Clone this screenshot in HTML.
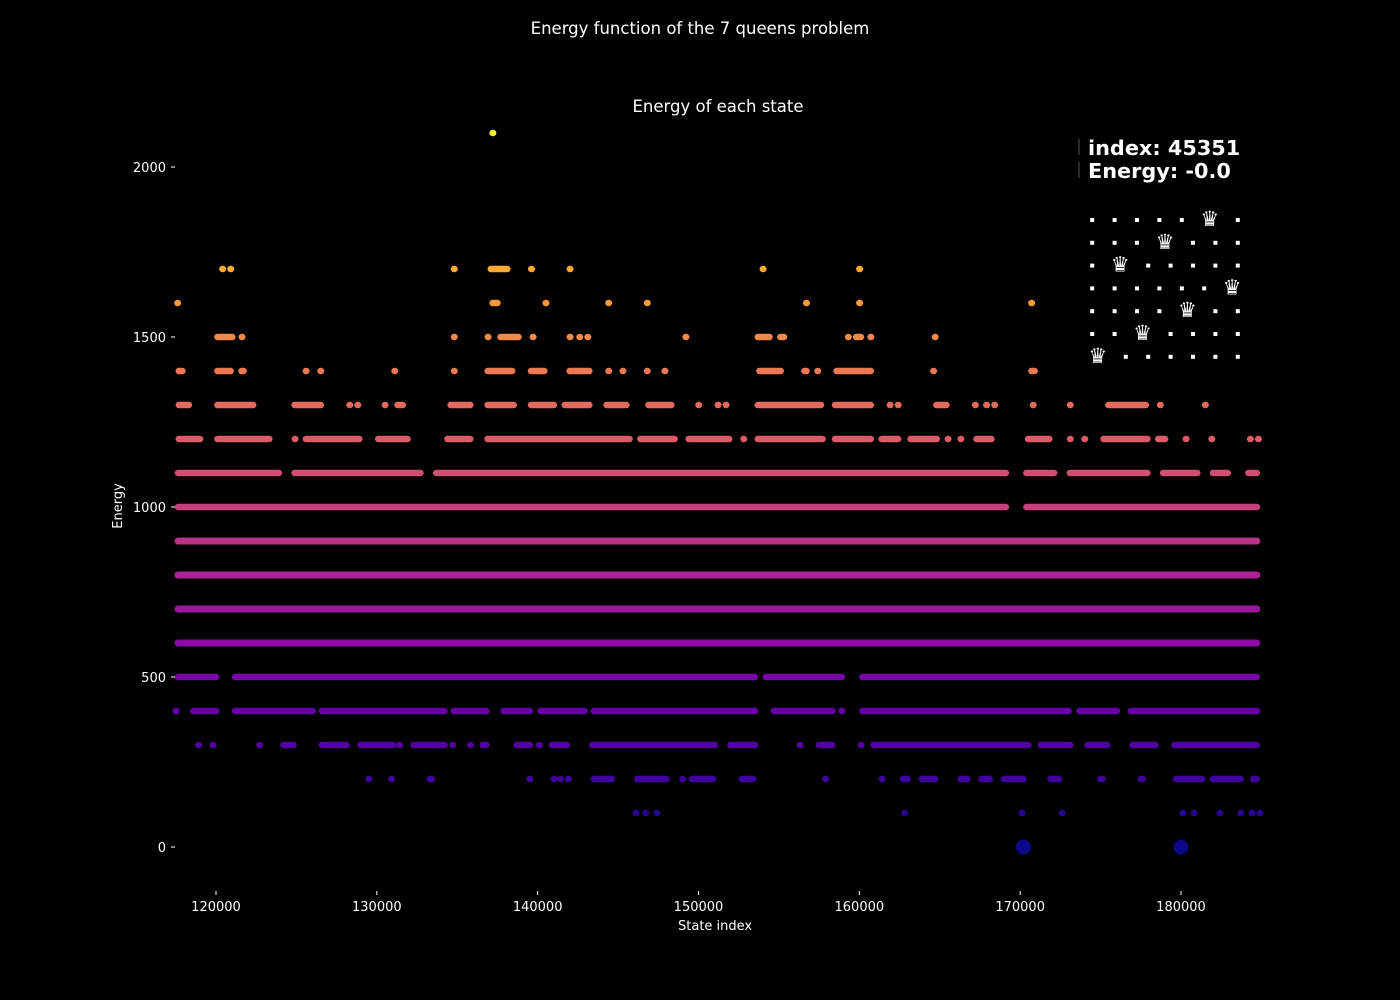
<!DOCTYPE html>
<html><head><meta charset="utf-8">
<style>
html,body{margin:0;padding:0;background:#000;}
body{width:1400px;height:1000px;overflow:hidden;font-family:"DejaVu Sans","Liberation Sans",sans-serif;}
svg{display:block;}
svg text{font-family:"DejaVu Sans","Liberation Sans",sans-serif;}
</style></head>
<body>
<svg id="chart" width="1400" height="1000" xmlns="http://www.w3.org/2000/svg">
<rect width="1400" height="1000" fill="#000"/>
<text x="700" y="34" fill="#fff" font-size="16.5" text-anchor="middle">Energy function of the 7 queens problem</text>
<text x="718" y="112" fill="#fff" font-size="16.5" text-anchor="middle">Energy of each state</text>
<text x="678" y="930" fill="#fff" font-size="13">State index</text>
<text transform="translate(122,506) rotate(-90)" fill="#fff" font-size="13" text-anchor="middle">Energy</text>
<g id="marks"></g>
<g id="axes"></g>
<g id="inset">
<line x1="1079" y1="139" x2="1079" y2="155" stroke="#555" stroke-width="1"/>
<line x1="1079" y1="162" x2="1079" y2="178" stroke="#555" stroke-width="1"/>
<text x="1088" y="155" fill="#fff" font-size="20.8" font-weight="bold">index: 45351</text>
<text x="1088" y="178" fill="#fff" font-size="20.8" font-weight="bold">Energy: -0.0</text>
<g id="board"></g>
</g>
</svg>
<script>
// data in thousands of state index
const xTicks = [120000,130000,140000,150000,160000,170000,180000];
const yTicks = [0,500,1000,1500,2000];
const levels = [2100,1700,1600,1500,1400,1300,1200,1100,1000,900,800,700,600,500,400,300,200,100,0];
const runs2100 = [[137.2,137.2]];
const runs1700 = [[120.4,120.4],[120.9,120.9],[134.8,134.8],[136.9,138.3],[139.6,139.6],[142.0,142.0],[154.0,154.0],[160.0,160.0]];
const runs1600 = [[117.6,117.6],[137.2,137.5],[140.5,140.5],[144.4,144.4],[146.8,146.8],[156.7,156.7],[160.0,160.0],[170.7,170.7]];
const runs1500 = [[119.9,121.2],[121.6,121.6],[134.8,134.8],[136.9,136.9],[137.5,139.0],[139.7,139.7],[142.0,142.0],[142.6,142.6],[143.1,143.1],[149.2,149.2],[153.5,154.6],[154.9,155.5],[159.3,159.3],[159.8,160.1],[160.7,160.7],[164.7,164.7]];
const runs1400 = [[117.5,118.1],[119.9,121.1],[121.4,121.9],[125.4,125.8],[126.5,126.5],[131.1,131.1],[134.8,134.8],[136.7,138.6],[139.4,140.6],[141.8,143.4],[144.4,144.4],[145.1,145.5],[146.8,146.8],[147.9,147.9],[153.6,155.3],[156.4,156.9],[157.4,157.4],[158.4,160.9],[164.6,164.6],[170.7,170.9]];
const runs1300 = [[117.5,118.5],[119.9,122.5],[124.7,126.7],[128.3,128.3],[128.8,128.8],[130.5,130.5],[131.1,131.8],[134.4,136.0],[136.7,138.7],[139.4,141.2],[141.5,143.4],[144.1,145.7],[146.7,148.5],[150.0,150.0],[151.2,151.2],[151.7,151.7],[153.5,157.8],[158.3,160.9],[161.9,161.9],[162.4,162.4],[164.6,165.6],[167.2,167.2],[167.9,167.9],[168.4,168.4],[170.8,170.8],[173.1,173.1],[175.3,178.0],[178.7,178.7],[181.5,181.5]];
const runs1200 = [[117.5,119.2],[119.9,123.5],[124.9,124.9],[125.4,129.1],[129.9,132.1],[134.2,136.0],[136.7,145.9],[146.2,148.7],[149.2,152.1],[152.8,152.8],[153.5,157.9],[158.3,160.9],[161.2,162.6],[163.0,165.0],[165.5,165.5],[166.3,166.3],[167.1,168.4],[170.3,172.0],[173.1,173.1],[174.0,174.0],[175.0,178.1],[178.4,179.2],[180.3,180.3],[181.9,181.9],[184.3,184.3],[184.8,184.8]];
const runs1100 = [[117.45,124.1],[124.7,132.9],[133.5,169.3],[170.2,172.3],[172.9,178.1],[178.7,181.2],[181.8,183.1],[184.0,184.9]];
const runs1000 = [[117.45,169.3],[170.2,184.9]];
const runs900 = [[117.45,184.9]];
const runs800 = [[117.45,184.9]];
const runs700 = [[117.45,184.9]];
const runs600 = [[117.45,184.9]];
const runs500 = [[117.45,120.2],[121.0,153.7],[154.0,159.1],[160.0,184.9]];
const runs400 = [[117.5,117.5],[118.4,120.2],[121.0,126.2],[126.4,134.4],[134.6,137.0],[137.7,139.7],[140.0,143.1],[143.3,153.7],[154.5,158.5],[158.9,158.9],[160.0,173.2],[173.5,176.2],[176.7,184.9]];
const runs300 = [[118.9,118.9],[119.8,119.8],[122.7,122.7],[124.0,125.0],[126.4,128.3],[128.8,131.2],[131.4,131.4],[132.1,134.4],[134.7,134.7],[135.8,135.8],[136.4,137.0],[138.5,139.7],[140.1,140.1],[140.7,142.0],[143.2,151.2],[151.8,153.7],[156.3,156.3],[157.3,158.5],[160.1,160.1],[160.7,170.7],[171.1,173.3],[174.0,175.6],[176.8,178.6],[179.4,184.9]];
const runs200 = [[129.5,129.5],[130.9,130.9],[133.1,133.6],[139.5,139.5],[141.0,141.0],[141.4,141.4],[141.9,141.9],[143.3,144.8],[146.0,148.2],[149.0,149.0],[149.4,151.1],[152.5,153.6],[157.7,158.1],[161.4,161.4],[162.7,163.0],[163.7,164.9],[166.1,166.9],[167.4,168.3],[168.8,170.4],[171.7,172.6],[174.8,175.3],[177.3,177.8],[179.5,181.5],[181.8,183.9],[184.3,184.9]];
const runs100 = [[146.1,146.1],[146.7,146.7],[147.4,147.4],[162.8,162.8],[170.1,170.1],[172.6,172.6],[180.1,180.1],[180.8,180.8],[182.4,182.4],[183.7,183.7],[184.4,184.4],[184.9,184.9]];
const runs0 = [[170.2,170.2],[180.0,180.0]];
const allRuns = [runs2100,runs1700,runs1600,runs1500,runs1400,runs1300,runs1200,runs1100,runs1000,runs900,runs800,runs700,runs600,runs500,runs400,runs300,runs200,runs100,runs0];
const queenCols = [5,3,1,6,4,2,0];

const NS='http://www.w3.org/2000/svg';
function xScale(v){return 216+(v-120000)*0.0160833;}
function yScale(v){return 847-v*0.34;}
const stops=['#0d0887','#41049d','#6a00a8','#8f0da4','#b12a90','#cc4778','#e16462','#f2844b','#fca636','#fcce25','#f0f921'];
function hex(h){return [1,3,5].map(i=>parseInt(h.substr(i,2),16));}
function plasma(t){t=Math.max(0,Math.min(1,t));const f=t*10,i=Math.min(9,Math.floor(f)),r=f-i;const a=hex(stops[i]),b=hex(stops[i+1]);return 'rgb('+a.map((c,k)=>Math.round(c+(b[k]-c)*r)).join(',')+')';}
const marks=document.getElementById('marks');
levels.forEach((lv,li)=>{
  const col=plasma(lv/2100);
  const y=yScale(lv);
  allRuns[li].forEach(r=>{
    let x1=xScale(r[0]*1000),x2=xScale(r[1]*1000);
    if(x2-x1>6){x1+=3;x2-=3;}
    let el;
    if(lv===0){
      el=document.createElementNS(NS,'circle');
      el.setAttribute('cx',x1);el.setAttribute('cy',y);el.setAttribute('r',7.5);el.setAttribute('fill',col);
    }else{
      el=document.createElementNS(NS,'line');
      el.setAttribute('x1',x1);el.setAttribute('x2',Math.max(x2,x1+0.5));el.setAttribute('y1',y);el.setAttribute('y2',y);
      el.setAttribute('stroke',col);el.setAttribute('stroke-width',lv>=600&&lv<=900?7:6.5);el.setAttribute('stroke-linecap','round');
    }
    
    
    marks.appendChild(el);
  });
});
const axes=document.getElementById('axes');
xTicks.forEach(t=>{
  const x=xScale(t);
  const l=document.createElementNS(NS,'line');
  l.setAttribute('x1',x);l.setAttribute('x2',x);l.setAttribute('y1',891);l.setAttribute('y2',895);l.setAttribute('stroke','#fff');
  
  
  axes.appendChild(l);
  const tx=document.createElementNS(NS,'text');
  tx.setAttribute('x',x);tx.setAttribute('y',911);tx.setAttribute('fill','#fff');tx.setAttribute('font-size','13');tx.setAttribute('text-anchor','middle');
  tx.textContent=t;
  
  
  axes.appendChild(tx);
});
yTicks.forEach(t=>{
  const y=yScale(t);
  const l=document.createElementNS(NS,'line');
  l.setAttribute('x1',171);l.setAttribute('x2',175);l.setAttribute('y1',y);l.setAttribute('y2',y);l.setAttribute('stroke','#fff');
  
  
  axes.appendChild(l);
  const tx=document.createElementNS(NS,'text');
  tx.setAttribute('x',166);tx.setAttribute('y',y+5);tx.setAttribute('fill','#fff');tx.setAttribute('font-size','13');tx.setAttribute('text-anchor','end');
  tx.textContent=t;
  
  
  axes.appendChild(tx);
});
const board=document.getElementById('board');
queenCols.forEach((qc,row)=>{
  const y=220+row*22.8;
  let x=1081;
  for(let c=0;c<7;c++){
    if(c===qc){
      const q=document.createElementNS(NS,'text');
      q.setAttribute('x',x+16.8);q.setAttribute('y',y+6);q.setAttribute('fill','#fff');q.setAttribute('font-size','21');q.setAttribute('text-anchor','middle');
      q.textContent='\u265B';
      
      
      board.appendChild(q);
      x+=33.6;
    }else{
      const d=document.createElementNS(NS,'rect');
      d.setAttribute('x',x+11.2-2);d.setAttribute('y',y-2);d.setAttribute('width',4);d.setAttribute('height',4);d.setAttribute('fill','#fff');
      
      
      board.appendChild(d);
      x+=22.4;
    }
  }
});
</script>
</body></html>
